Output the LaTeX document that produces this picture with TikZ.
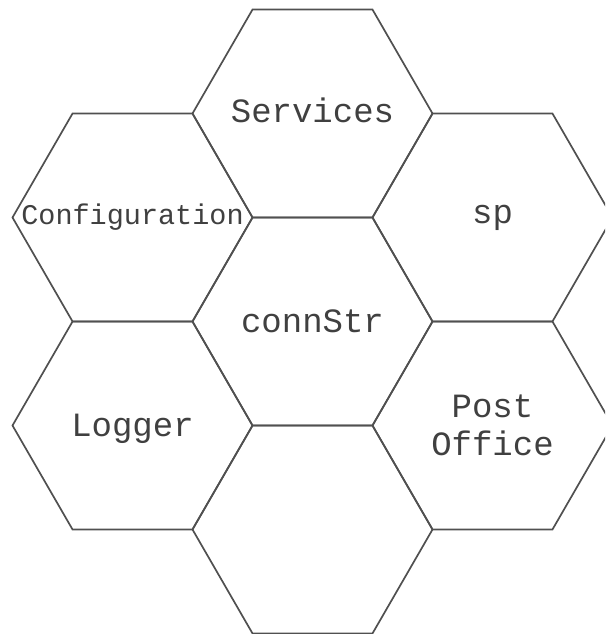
\documentclass[tikz,border=0pt]{standalone}
\usepackage{fontspec}
\setmainfont{Liberation Mono}
\definecolor{hexline}{HTML}{505050}
\definecolor{hextext}{HTML}{404040}
\begin{document}
\begin{tikzpicture}[x=1pt,y=-1pt,
  hexedge/.style={draw=hexline,line width=1.7pt,line join=miter},
  lbl/.style={text=hextext,font=\fontsize{34}{38}\selectfont,align=center,inner sep=0pt},
  smalllbl/.style={text=hextext,font=\fontsize{28.5}{32}\selectfont,align=center,inner sep=0pt}]
\useasboundingbox (0,0) rectangle (605,634);
\clip (0,0) rectangle (605,634);
\foreach \n/\cx/\cy in {services/312.5/113.5, config/132.5/217.5, sp/492.5/217.5, conn/312.5/321.5, logger/132.5/425.5, post/492.5/425.5, empty/312.5/529.5}{
  \coordinate (\n) at (\cx,\cy);
  \draw[hexedge] (\n) +(0:120) -- +(60:120) -- +(120:120) -- +(180:120) -- +(240:120) -- +(300:120) -- cycle;
}
\node[lbl] (tservices) at ([yshift=3pt]services) {Services};
\node[smalllbl] (tconfig) at (config) {Configuration};
\node[lbl] (tsp) at (sp) {sp};
\node[lbl] (tconn) at (conn) {connStr};
\node[lbl] (tlogger) at ([yshift=-3pt]logger) {Logger};
\node[lbl] (tpost) at (post) {Post\\Office};
\end{tikzpicture}
\end{document}
